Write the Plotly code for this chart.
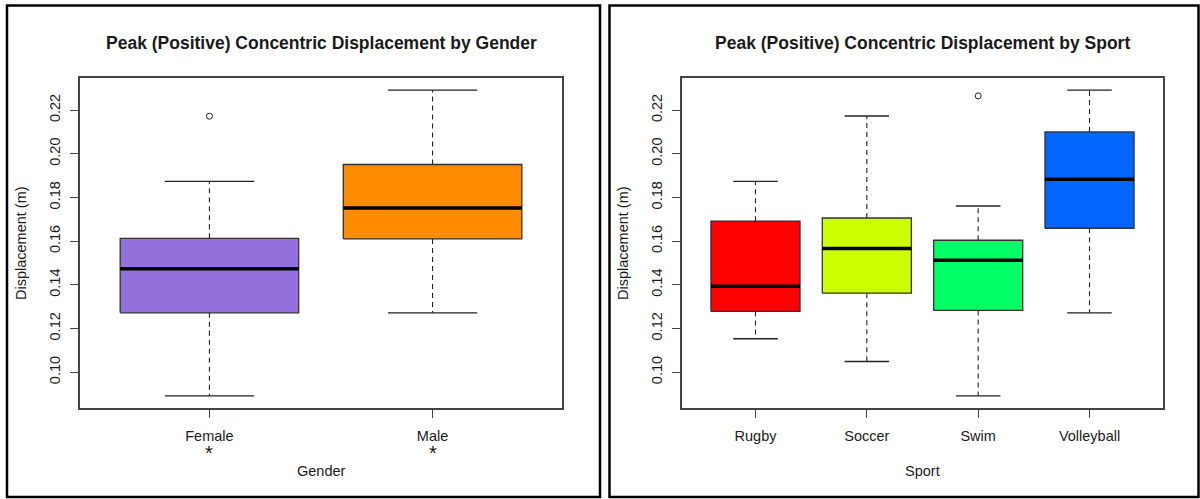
import plotly.graph_objects as go

# Peak (positive) concentric displacement summaries (metres)
gender_groups = ["Female", "Male"]
gender_lower = [0.0892, 0.1272]
gender_q1 = [0.1272, 0.1610]
gender_median = [0.1474, 0.1752]
gender_q3 = [0.1613, 0.1951]
gender_upper = [0.1874, 0.2291]
gender_outliers = [[0.2172], []]
gender_colors = ["#9370DB", "#FF8C00"]

sport_groups = ["Rugby", "Soccer", "Swim", "Volleyball"]
sport_lower = [0.1153, 0.1049, 0.0892, 0.1272]
sport_q1 = [0.1278, 0.1362, 0.1283, 0.1659]
sport_median = [0.1394, 0.1566, 0.1512, 0.1883]
sport_q3 = [0.1691, 0.1706, 0.1604, 0.2100]
sport_upper = [0.1874, 0.2173, 0.1761, 0.2291]
sport_outliers = [[], [], [0.2265], []]
sport_colors = ["#FF0000", "#CCFF00", "#00FF66", "#0066FF"]

y_ticks = [0.10, 0.12, 0.14, 0.16, 0.18, 0.20, 0.22]

W, H = 1200, 499
FONT = "Liberation Sans, Arial, sans-serif"
TXT = "#1a1a1a"
FRAME = "#444444"
BOX_HALF = 0.4
CAP_HALF = 0.2


def px_x(p):
    return p / W


def px_y(p):
    return (H - p) / H


fig = go.Figure()


def add_boxplot(xa, ya, groups, lower, q1, med, q3, upper, outliers, colors):
    # filled boxes
    for i, g in enumerate(groups):
        c = i + 1
        fig.add_trace(go.Scatter(
            x=[c - BOX_HALF, c + BOX_HALF, c + BOX_HALF, c - BOX_HALF, c - BOX_HALF],
            y=[q1[i], q1[i], q3[i], q3[i], q1[i]],
            mode="lines", fill="toself", fillcolor=colors[i],
            line=dict(color="#333333", width=1.3),
            xaxis=xa, yaxis=ya, showlegend=False, hoverinfo="skip"))
    # dashed whiskers
    wx, wy = [], []
    for i in range(len(groups)):
        c = i + 1
        wx += [c, c, None, c, c, None]
        wy += [q3[i], upper[i], None, q1[i], lower[i], None]
    fig.add_trace(go.Scatter(x=wx, y=wy, mode="lines",
                             line=dict(color="#222222", width=1.1, dash="5px,4px"),
                             xaxis=xa, yaxis=ya, showlegend=False, hoverinfo="skip"))
    # whisker caps
    cx, cy = [], []
    for i in range(len(groups)):
        c = i + 1
        cx += [c - CAP_HALF, c + CAP_HALF, None, c - CAP_HALF, c + CAP_HALF, None]
        cy += [upper[i], upper[i], None, lower[i], lower[i], None]
    fig.add_trace(go.Scatter(x=cx, y=cy, mode="lines",
                             line=dict(color="#222222", width=1.3),
                             xaxis=xa, yaxis=ya, showlegend=False, hoverinfo="skip"))
    # medians
    mx, my = [], []
    for i in range(len(groups)):
        c = i + 1
        mx += [c - BOX_HALF, c + BOX_HALF, None]
        my += [med[i], med[i], None]
    fig.add_trace(go.Scatter(x=mx, y=my, mode="lines",
                             line=dict(color="#000000", width=3.5),
                             xaxis=xa, yaxis=ya, showlegend=False, hoverinfo="skip"))
    # outliers
    ox, oy = [], []
    for i, vals in enumerate(outliers):
        for v in vals:
            ox.append(i + 1)
            oy.append(v)
    if ox:
        fig.add_trace(go.Scatter(x=ox, y=oy, mode="markers",
                                 marker=dict(symbol="circle-open", size=6,
                                             color="#222222", line=dict(width=1)),
                                 xaxis=xa, yaxis=ya, showlegend=False, hoverinfo="skip"))


add_boxplot("x", "y", gender_groups, gender_lower, gender_q1, gender_median,
            gender_q3, gender_upper, gender_outliers, gender_colors)
add_boxplot("x2", "y2", sport_groups, sport_lower, sport_q1, sport_median,
            sport_q3, sport_upper, sport_outliers, sport_colors)


def y_range(lower, upper, outliers):
    vals = list(lower) + list(upper) + [v for o in outliers for v in o]
    lo, hi = min(vals), max(vals)
    pad = 0.04 * (hi - lo)
    return [lo - pad, hi + pad]


def x_range(n):
    span = n
    return [0.5 - 0.04 * span, n + 0.5 + 0.04 * span]


plot_top, plot_bottom = 78, 408
left_dom = [px_x(80), px_x(562)]
right_dom = [px_x(682), px_x(1163)]
y_dom = [px_y(plot_bottom), px_y(plot_top)]

axis_common = dict(showline=True, linecolor=FRAME, linewidth=1.5, mirror=True,
                   showgrid=False, zeroline=False, ticks="outside", ticklen=8,
                   tickcolor=FRAME, tickwidth=1.2,
                   tickfont=dict(family=FONT, size=14.5, color=TXT))

fig.update_layout(
    width=W, height=H,
    margin=dict(l=0, r=0, t=0, b=0),
    paper_bgcolor="white", plot_bgcolor="white",
    showlegend=False,
    xaxis=dict(domain=left_dom, range=x_range(len(gender_groups)),
               tickvals=list(range(1, len(gender_groups) + 1)),
               ticktext=gender_groups, ticklabelstandoff=6, **axis_common),
    yaxis=dict(domain=y_dom, range=y_range(gender_lower, gender_upper, gender_outliers),
               tickvals=y_ticks, ticktext=[f"{v:.2f}" for v in y_ticks],
               tickangle=-90, ticklabelstandoff=4, **axis_common),
    xaxis2=dict(domain=right_dom, range=x_range(len(sport_groups)), anchor="y2",
                tickvals=list(range(1, len(sport_groups) + 1)),
                ticktext=sport_groups, ticklabelstandoff=6, **axis_common),
    yaxis2=dict(domain=y_dom, range=y_range(sport_lower, sport_upper, sport_outliers),
                anchor="x2", tickvals=y_ticks, ticktext=[f"{v:.2f}" for v in y_ticks],
                tickangle=-90, ticklabelstandoff=4, **axis_common),
)

# panel borders
for x0, x1 in [(7, 600), (609.5, 1198.5)]:
    fig.add_shape(type="rect", xref="paper", yref="paper",
                  x0=px_x(x0), x1=px_x(x1), y0=px_y(497), y1=px_y(5.5),
                  line=dict(color="black", width=2.5), fillcolor="rgba(0,0,0,0)")

annotations = []
for dom, title, xlab, ylab_x in [
    (left_dom, "Peak (Positive) Concentric Displacement by Gender", "Gender", 21),
    (right_dom, "Peak (Positive) Concentric Displacement by Sport", "Sport", 623),
]:
    cx = (dom[0] + dom[1]) / 2
    annotations.append(dict(x=cx, y=px_y(43), xref="paper", yref="paper",
                            text=f"<b>{title}</b>", showarrow=False,
                            xanchor="center", yanchor="middle",
                            font=dict(family=FONT, size=17.5, color=TXT)))
    annotations.append(dict(x=cx, y=px_y(471), xref="paper", yref="paper",
                            text=xlab, showarrow=False, xanchor="center", yanchor="middle",
                            font=dict(family=FONT, size=14.5, color=TXT)))
    annotations.append(dict(x=px_x(ylab_x), y=(y_dom[0] + y_dom[1]) / 2,
                            xref="paper", yref="paper", text="Displacement (m)",
                            textangle=-90, showarrow=False,
                            xanchor="center", yanchor="middle",
                            font=dict(family=FONT, size=14.5, color=TXT)))

# significance markers under each gender label
for i, g in enumerate(gender_groups):
    annotations.append(dict(x=i + 1, y=px_y(453), xref="x", yref="paper",
                            text="*", showarrow=False, xanchor="center",
                            yanchor="middle",
                            font=dict(family=FONT, size=20, color=TXT)))

fig.update_layout(annotations=annotations)

fig.write_html("out.html")
